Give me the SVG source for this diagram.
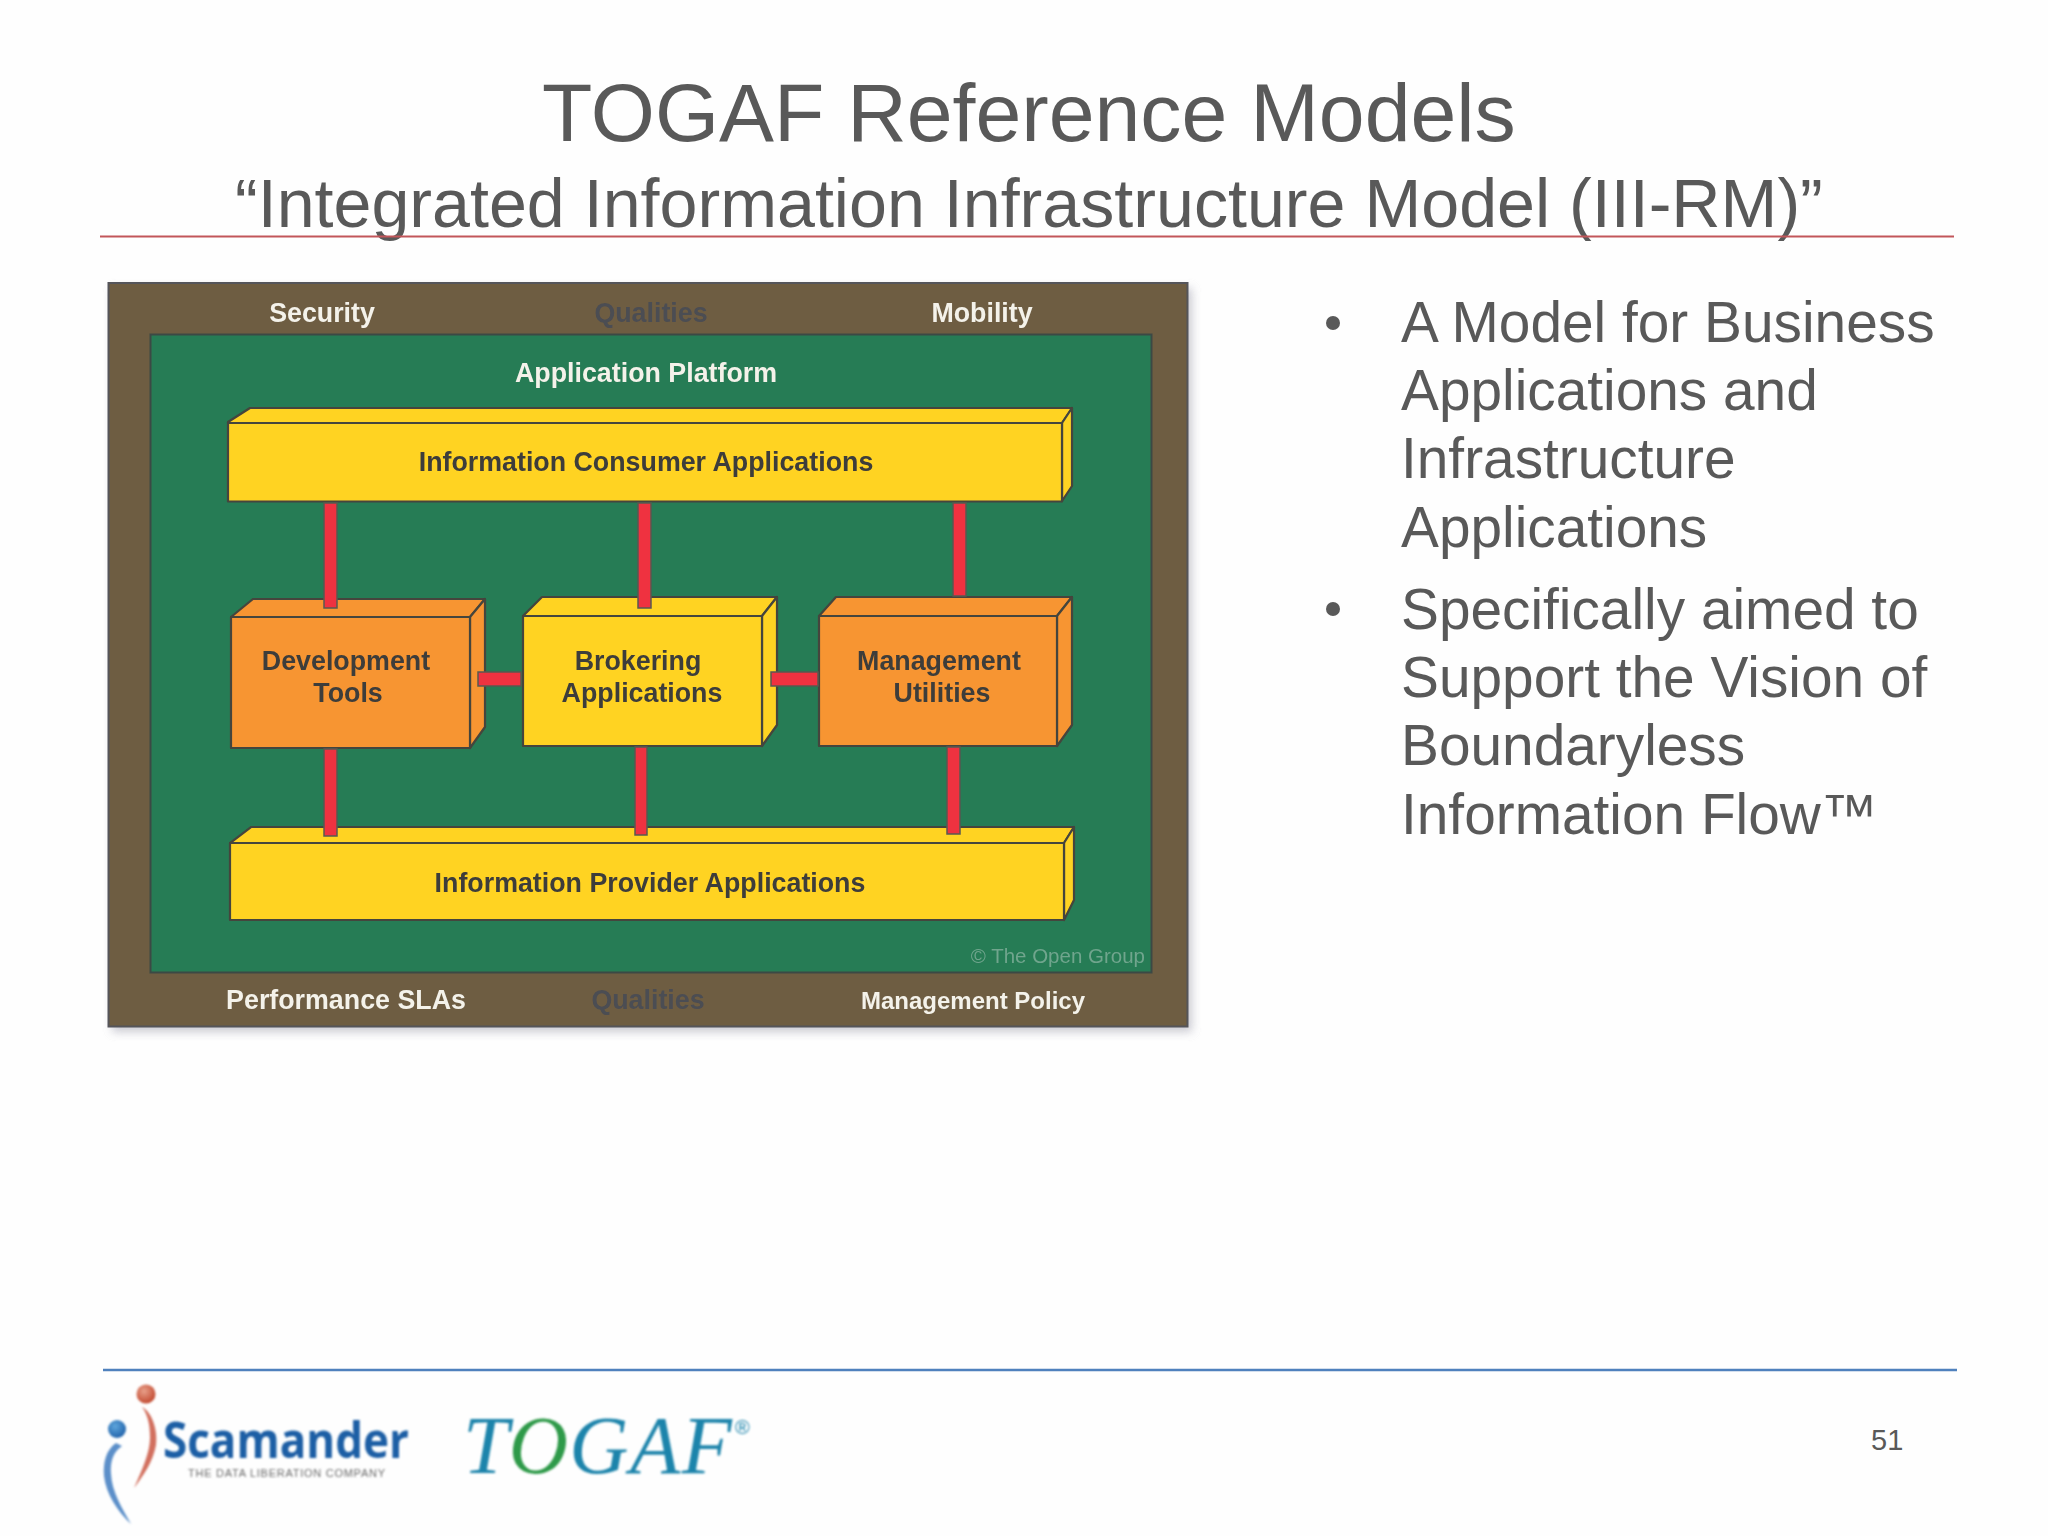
<svg xmlns="http://www.w3.org/2000/svg" width="2048" height="1536" viewBox="0 0 2048 1536">
<defs>
<filter id="soft" x="-5%" y="-5%" width="110%" height="110%"><feGaussianBlur stdDeviation="0.6"/></filter>
<filter id="shadow" x="-5%" y="-5%" width="110%" height="110%"><feGaussianBlur stdDeviation="5"/></filter>
<filter id="logo" x="-10%" y="-10%" width="120%" height="120%"><feGaussianBlur stdDeviation="0.8"/></filter>
<radialGradient id="ballR" cx="40%" cy="35%" r="70%"><stop offset="0" stop-color="#e8a08a"/><stop offset="1" stop-color="#c0442a"/></radialGradient>
<radialGradient id="ballB" cx="40%" cy="35%" r="70%"><stop offset="0" stop-color="#5fa6dc"/><stop offset="1" stop-color="#1d5fa8"/></radialGradient>
</defs>
<style>
.t{font-family:"Liberation Sans",Arial,sans-serif;fill:#595959}
.l{font-family:"Liberation Sans",Arial,sans-serif;font-weight:bold;font-size:26.8px;text-anchor:middle}
.w{fill:#f4f2ea}.g{fill:#4c4d52}.d{fill:#3d3c3a}
.y path,.y rect{fill:#ffd324;stroke:#45443c;stroke-width:2.2;stroke-linejoin:round}
.o path,.o rect{fill:#f79530;stroke:#45443c;stroke-width:2.2;stroke-linejoin:round}
.c rect{fill:#ef3340;stroke:#5a5a50;stroke-width:1.5}
</style>
<rect width="2048" height="1536" fill="#fefefe"/>
<g id="title">
<text class="t" x="542" y="141" font-size="82.4">TOGAF Reference Models</text>
<text class="t" x="235" y="227" font-size="68.2">“Integrated Information Infrastructure Model (III-RM)”</text>
<line x1="100" y1="236.500" x2="1954" y2="236.500" stroke="#c2565a" stroke-width="2"/>
</g>
<g id="diagram" filter="url(#soft)">
<rect x="112" y="288" width="1080" height="744" fill="#a8a8b6" opacity="0.6" filter="url(#shadow)"/>
<g id="frame">
<rect x="108.500" y="283" width="1079" height="743.500" fill="#6e5d43" stroke="#55555a" stroke-width="2"/>
<rect x="150.500" y="334.500" width="1001" height="638" fill="#267b54" stroke="#3b4a44" stroke-width="2"/>
<text class="l w" x="322" y="322">Security</text>
<text class="l g" x="651" y="322">Qualities</text>
<text class="l w" x="982" y="322">Mobility</text>
<text class="l w" x="646" y="382">Application Platform</text>
<text class="l w" x="346" y="1009">Performance SLAs</text>
<text class="l g" x="648" y="1009">Qualities</text>
<text class="l w" x="973" y="1009" style="font-size:24px">Management Policy</text>
<text x="1145" y="963" text-anchor="end" font-family="'Liberation Sans',Arial,sans-serif" font-size="20.500" fill="#6fa58d">© The Open Group</text>
</g>
<g id="consumer" class="y">
<path d="M228 422 L250 408 H1072 L1062 423 H228 Z"/>
<path d="M1062 423 L1072 408 V486 L1062 501 Z"/>
<rect x="228" y="423" width="834" height="78.500"/>
</g>
<g id="provider" class="y">
<path d="M230 843 L251 827 H1074 L1064 843 Z"/>
<path d="M1064 843 L1074 827 V900 L1064 920 Z"/>
<rect x="230" y="843" width="834" height="77"/>
</g>
<g id="devtools" class="o">
<path d="M231 617 L253 599 H485 L470 617 Z"/>
<path d="M470 617 L485 599 V727 L470 748 Z"/>
<rect x="231" y="617" width="239" height="131"/>
</g>
<g id="brokering" class="y">
<path d="M523 616 L542 597 H777 L762 616 Z"/>
<path d="M762 616 L777 597 V725 L762 746 Z"/>
<rect x="523" y="616" width="239" height="130"/>
</g>
<g id="management" class="o">
<path d="M819 616 L836 597 H1072 L1057 616 Z"/>
<path d="M1057 616 L1072 597 V725 L1057 746 Z"/>
<rect x="819" y="616" width="238" height="130"/>
</g>
<g id="connectors" class="c">
<rect x="324" y="503" width="13" height="105"/>
<rect x="638" y="503" width="13" height="105"/>
<rect x="953" y="503" width="13" height="93"/>
<rect x="478" y="672" width="43" height="14"/>
<rect x="771" y="672" width="47" height="14"/>
<rect x="324" y="749" width="13" height="87"/>
<rect x="635" y="747" width="12" height="88"/>
<rect x="947" y="747" width="13" height="87"/>
</g>
<g id="labels">
<text class="l d" x="646" y="471">Information Consumer Applications</text>
<text class="l d" x="650" y="892">Information Provider Applications</text>
<text class="l d" x="346" y="670">Development</text>
<text class="l d" x="348" y="702">Tools</text>
<text class="l d" x="638" y="670">Brokering</text>
<text class="l d" x="642" y="702">Applications</text>
<text class="l d" x="939" y="670">Management</text>
<text class="l d" x="942" y="702">Utilities</text>
</g>
</g>
<g id="bullets" class="t" font-size="56.8">
<circle cx="1333" cy="323" r="7" fill="#595959"/>
<text x="1401" y="342">A Model for Business</text>
<text x="1401" y="410">Applications and</text>
<text x="1401" y="478">Infrastructure</text>
<text x="1401" y="547">Applications</text>
<circle cx="1333" cy="609" r="7" fill="#595959"/>
<text x="1401" y="629">Specifically aimed to</text>
<text x="1401" y="697">Support the Vision of</text>
<text x="1401" y="765">Boundaryless</text>
<text x="1401" y="834">Information Flow™</text>
</g>
<g id="footer">
<line x1="103" y1="1370" x2="1957" y2="1370" stroke="#4f81bd" stroke-width="2.500"/>
<text class="t" x="1871" y="1450" font-size="29">51</text>
</g>
<g id="logo-scamander" filter="url(#logo)">
<circle cx="146" cy="1394" r="9.500" fill="url(#ballR)"/>
<circle cx="117" cy="1429" r="9" fill="url(#ballB)"/>
<path d="M142 1407 C152 1412 158 1430 156 1445 C153 1462 143 1476 134 1488 C142 1470 150 1452 150 1438 C150 1425 148 1415 142 1407 Z" fill="#d2705e"/>
<path d="M116 1443 C106 1450 103 1462 104 1476 C106 1494 118 1512 131 1524 C122 1508 112 1492 111 1474 C110 1462 113 1452 122 1446 Z" fill="#5b8fc9"/>
<text x="163" y="1458" font-family="'Open Sans','Liberation Sans',sans-serif" font-weight="700" font-size="50" textLength="246" lengthAdjust="spacingAndGlyphs" fill="#1f5fa5">Scamander</text>
<text x="188" y="1477" font-family="'Liberation Sans',Arial,sans-serif" font-size="11" textLength="197" lengthAdjust="spacing" fill="#6b6b6b">THE DATA LIBERATION COMPANY</text>
</g>
<g id="logo-togaf" filter="url(#logo)" font-family="'Liberation Serif','Times New Roman',serif" font-style="italic" fill="#1f84ab">
<text x="463" y="1473" font-size="82" letter-spacing="1.500">T<tspan fill="#2f9a48">O</tspan>GAF</text>
<text x="735" y="1434" font-family="'Liberation Sans',Arial,sans-serif" font-style="normal" font-size="20">®</text>
</g>
</svg>
